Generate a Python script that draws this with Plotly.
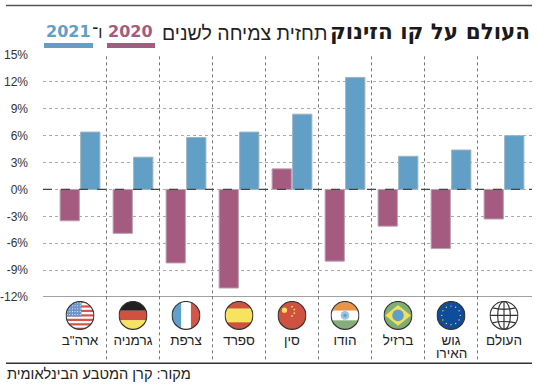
import base64
import plotly.graph_objects as go

countries = ['ארה"ב', "גרמניה", "צרפת", "ספרד", "סין", "הודו", "ברזיל", "גוש", "העולם"]
euro_second_line = "האירו"
growth_2020 = [-3.5, -4.9, -8.2, -11.0, 2.3, -8.0, -4.1, -6.6, -3.3]
growth_2021 = [6.4, 3.6, 5.8, 6.4, 8.4, 12.5, 3.7, 4.4, 6.0]
y_ticks = [15, 12, 9, 6, 3, 0, -3, -6, -9, -12]
y_labels = [f"{v}%" for v in y_ticks]

BLUE, RED = "#619fc6", "#a55b7f"
W, H = 550, 385
L, R, T, B = 43, 532, 54.5, 296.6


def px(x):
    return (x - L) / (R - L)


def py(y):
    return (B - y) / (B - T)


def flag(body):
    svg = (
        '<svg xmlns="http://www.w3.org/2000/svg" viewBox="0 0 100 100">'
        '<defs><clipPath id="c"><circle cx="50" cy="50" r="48"/></clipPath></defs>'
        f'<g clip-path="url(#c)">{body}</g>'
        '<circle cx="50" cy="50" r="48" fill="none" stroke="#333" stroke-width="4"/></svg>'
    )
    return "data:image/svg+xml;base64," + base64.b64encode(svg.encode()).decode()


def rect(x, y, w, h, c):
    return f'<rect x="{x}" y="{y}" width="{w}" height="{h}" fill="{c}"/>'


us = rect(0, 0, 100, 100, "#fff")
for i in range(0, 7):
    us += rect(0, i * 15.4, 100, 7.7, "#d2564a")
us += rect(0, 0, 55, 54, "#6d93c7")
for r in range(5):
    for c in range(6):
        us += f'<circle cx="{6 + c * 9}" cy="{7 + r * 10}" r="1.8" fill="#fff"/>'
germany = rect(0, 0, 100, 34, "#231f20") + rect(0, 34, 100, 33, "#cf5140") + rect(0, 67, 100, 33, "#f7e35f")
france = rect(0, 0, 34, 100, "#5fa0cf") + rect(34, 0, 33, 100, "#fff") + rect(67, 0, 33, 100, "#d2564a")
spain = rect(0, 0, 100, 100, "#cf5140") + rect(0, 26, 100, 48, "#f7e35f")
stars = "".join(
    f'<circle cx="{x}" cy="{y}" r="{r}" fill="#f7e35f"/>'
    for x, y, r in [(24, 32, 9), (50, 20, 3), (58, 30, 3), (58, 42, 3), (50, 52, 3)]
)
china = rect(0, 0, 100, 100, "#cf5140") + stars
india = (
    rect(0, 0, 100, 34, "#e8954a") + rect(0, 34, 100, 33, "#fff") + rect(0, 67, 100, 33, "#85ad7b")
    + '<circle cx="50" cy="50" r="15" fill="#9cc4de"/><circle cx="50" cy="50" r="6" fill="#5fa0cf"/>'
)
brazil = (
    rect(0, 0, 100, 100, "#7fae75")
    + '<polygon points="50,14 94,50 50,86 6,50" fill="#f3e05a"/><circle cx="50" cy="50" r="20" fill="#5f9fcb"/>'
)
euro_stars = "".join(
    f'<circle cx="{x}" cy="{y}" r="2.4" fill="#f3d34a"/>'
    for x, y in [(50, 18), (66, 22), (78, 34), (82, 50), (78, 66), (66, 78), (50, 82), (34, 78), (22, 66), (18, 50), (22, 34), (34, 22)]
)
euro = rect(0, 0, 100, 100, "#0f4c9c") + euro_stars
globe = (
    rect(0, 0, 100, 100, "#fff")
    + '<g fill="none" stroke="#333" stroke-width="4"><ellipse cx="50" cy="50" rx="22" ry="48"/>'
    '<line x1="50" y1="0" x2="50" y2="100"/><line x1="0" y1="50" x2="100" y2="50"/>'
    '<path d="M10 24 Q50 34 90 24"/><path d="M10 76 Q50 66 90 76"/></g>'
)
flags = [us, germany, france, spain, china, india, brazil, euro, globe]

idx = list(range(len(countries)))
fig = go.Figure()
fig.add_bar(x=idx, y=growth_2020, marker=dict(color=RED, line=dict(color="#b8a4b0", width=1)), showlegend=False)
fig.add_bar(x=idx, y=growth_2021, marker=dict(color=BLUE, line=dict(color="#9fb4c2", width=1)), showlegend=False)

shapes = []
for y_val in (0, -12):
    shapes.append(dict(type="line", xref="paper", yref="y", x0=0, x1=1, y0=y_val, y1=y_val, layer="above",
                       line=dict(color="#444", width=1.2, dash="dash" if y_val == 0 else "solid")))
for i in idx[:-1]:
    shapes.append(dict(type="line", xref="x", yref="paper", x0=i + .5, x1=i + .5, y0=py(359), y1=1, layer="below",
                       line=dict(color="#777", width=1, dash="dot")))
shapes += [
    dict(type="line", xref="paper", yref="paper", x0=px(6), x1=1, y0=py(5), y1=py(5), line=dict(color="#555", width=1.5)),
    dict(type="line", xref="paper", yref="paper", x0=px(6), x1=1, y0=py(363), y1=py(363), line=dict(color="#333", width=1.5)),
    dict(type="line", xref="paper", yref="paper", x0=px(44), x1=px(93), y0=py(45), y1=py(45), line=dict(color=BLUE, width=5)),
    dict(type="line", xref="paper", yref="paper", x0=px(107), x1=px(155), y0=py(45), y1=py(45), line=dict(color=RED, width=5)),
]


def note(x, y, text, size, color="#222", font="Liberation Sans", anchor="right"):
    return dict(xref="paper", yref="paper", x=px(x), y=py(y), text=text, showarrow=False, xanchor=anchor,
                yanchor="middle", font=dict(size=size, color=color, family=font), align="right")


annotations = [
    note(532, 31, "<b>העולם על קו הזינוק</b>", 21.5, "#1a1a1a", "DejaVu Sans"),
    note(329, 32, "תחזית צמיחה לשנים", 19.5, "#222", "Liberation Sans"),
    note(155, 31, "<b>2020</b>", 16, RED, "DejaVu Sans"),
    note(104, 32, "ו־", 16, "#222", "Liberation Sans"),
    note(93, 31, "<b>2021</b>", 16, BLUE, "DejaVu Sans"),
    note(193, 374, "מקור: קרן המטבע הבינלאומית", 14.6, "#222", "Liberation Sans"),
    dict(xref="x", yref="paper", x=7, y=py(353), text=euro_second_line, showarrow=False, xanchor="center",
         yanchor="middle", font=dict(size=13.5, color="#222", family="Liberation Sans")),
]

images = [
    dict(source=flag(b), xref="x", yref="paper", x=i, y=py(315), sizex=29 / 53, sizey=29 / (B - T),
         xanchor="center", yanchor="middle", sizing="contain", layer="above")
    for i, b in zip(idx, flags)
]

fig.update_layout(
    width=W, height=H, autosize=False,
    margin=dict(l=L, r=W - R, t=T, b=H - B, pad=0, autoexpand=False),
    paper_bgcolor="#fff", plot_bgcolor="#fff",
    barmode="group", bargap=0.226, bargroupgap=0.06,
    shapes=shapes, annotations=annotations, images=images,
    xaxis=dict(range=[(L - 80) / 53, (R - 80) / 53], tickmode="array", tickvals=idx, ticktext=countries,
               ticks="", showgrid=False, zeroline=False, ticklabelstandoff=33, automargin=False,
               tickfont=dict(family="Liberation Sans", size=13.5, color="#222")),
    yaxis=dict(range=[-12, 15], tickmode="array", tickvals=y_ticks, ticktext=y_labels, ticks="", automargin=False,
               showgrid=True, gridcolor="#aaa", griddash="dot", gridwidth=1, zeroline=False, ticklabelstandoff=14,
               tickfont=dict(family="Liberation Sans", size=12, color="#333")),
)
fig.write_html("out.html", config={"displayModeBar": False},
               post_script="document.body.style.margin='0';document.body.style.overflow='hidden';")
